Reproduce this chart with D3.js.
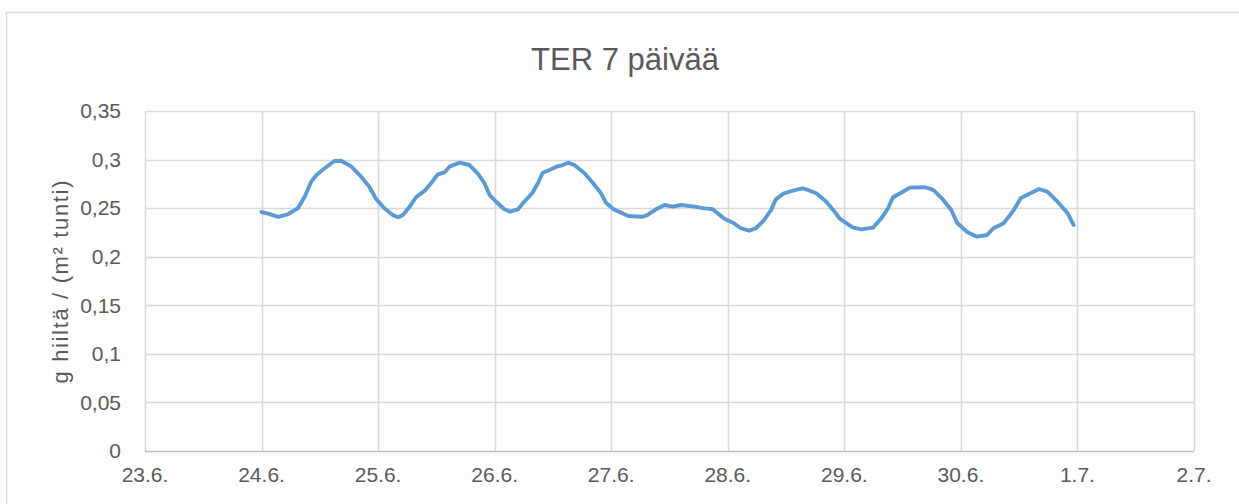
<!DOCTYPE html>
<html><head><meta charset="utf-8">
<script src="https://cdn.jsdelivr.net/npm/d3@7"></script>
<style>
html,body{margin:0;padding:0;background:#fff;}
svg{display:block;}
text{font-family:"Liberation Sans",Arial,sans-serif;fill:#595959;}
</style></head>
<body>
<script>
// Data: hours since 24.6. 00:00 and TER values
const hours = [0,1.5,3.4,5.4,7.5,8.9,10.2,11.3,13,15,16.4,18.5,20.5,22.2,23.5,25.3,27,28.1,29.1,30.5,31.8,33.6,34.9,36.3,37.7,38.7,40.8,42.8,44.5,45.9,46.9,48.3,50,51.2,52.8,54.1,55.8,56.9,57.9,59.3,60.7,61.7,63.1,64.4,66.5,68.2,69.9,70.9,72.5,75.5,78.5,79.5,81.2,83,84.7,86.4,89.1,91.2,92.9,93.9,95.3,97.2,98.7,100.4,101.8,103.5,104.9,105.9,107.6,109.4,111.4,112.5,114.2,116.3,118,119,121.7,123.5,125.9,127.6,129,130,131.7,133.5,136.6,138.3,140.4,142.1,143.2,145.2,147.3,149.4,150.7,152.8,154.9,156.3,158,160.1,161.8,163.9,166,167.2];
const values = [0.246,0.244,0.241,0.2437,0.250,0.262,0.277,0.2841,0.2911,0.2985,0.2988,0.2927,0.2824,0.272,0.260,0.2498,0.243,0.2406,0.243,0.2515,0.2612,0.268,0.2756,0.2848,0.2869,0.2927,0.2968,0.2944,0.2859,0.2756,0.2640,0.2566,0.2488,0.2464,0.2488,0.2566,0.2659,0.2756,0.2865,0.2893,0.2927,0.2937,0.2968,0.2944,0.2859,0.2762,0.2653,0.2556,0.2488,0.2419,0.2412,0.243,0.2488,0.2532,0.2515,0.2532,0.2515,0.2498,0.2488,0.2447,0.239,0.2347,0.2293,0.2268,0.2293,0.2378,0.248,0.2591,0.2653,0.268,0.2704,0.2687,0.2653,0.2566,0.2464,0.2395,0.2303,0.2282,0.2299,0.2395,0.2498,0.2612,0.2659,0.2711,0.2715,0.2687,0.2584,0.2474,0.235,0.2258,0.2206,0.2224,0.2293,0.2344,0.248,0.2601,0.2646,0.2697,0.2669,0.2566,0.2447,0.2327];
const xTickLabels = ["23.6.","24.6.","25.6.","26.6.","27.6.","28.6.","29.6.","30.6.","1.7.","2.7."];
const yTicks = [0,0.05,0.1,0.15,0.2,0.25,0.3,0.35];
const title = "TER 7 päivää";
const yTitle = "g hiiltä / (m² tunti)";

(function () {
const W = 1239, H = 504;
const svg = d3.select("body").append("svg").attr("width", W).attr("height", H);

// chart frame
svg.append("rect").attr("x", 6.5).attr("y", 12.5).attr("width", 1260).attr("height", 520)
  .attr("fill", "#fff").attr("stroke", "#d9d9d9").attr("stroke-width", 1.5);

const pl = 145, pr = 1194, pt = 111, pb = 451;
// x in days from 23.6. 00:00
const x = d3.scaleLinear().domain([0, xTickLabels.length - 1]).range([pl, pr]);
const y = d3.scaleLinear().domain([0, 0.35]).range([pb, pt]);

// horizontal gridlines
svg.append("g").selectAll("line").data(yTicks.filter(d => d > 0)).join("line")
  .attr("x1", pl).attr("x2", pr)
  .attr("y1", d => Math.round(y(d)) + 0.5).attr("y2", d => Math.round(y(d)) + 0.5)
  .attr("stroke", "#d9d9d9").attr("stroke-width", 1.6);
// vertical gridlines
svg.append("g").selectAll("line").data(xTickLabels).join("line")
  .attr("x1", (d, i) => Math.round(x(i)) + 0.5).attr("x2", (d, i) => Math.round(x(i)) + 0.5)
  .attr("y1", pt).attr("y2", pb)
  .attr("stroke", "#d9d9d9").attr("stroke-width", 1.6);
// bottom axis line
svg.append("line").attr("x1", pl).attr("x2", pr)
  .attr("y1", Math.round(y(0)) + 0.5).attr("y2", Math.round(y(0)) + 0.5)
  .attr("stroke", "#bfbfbf").attr("stroke-width", 1.6);

// y tick labels
const fmt = d => d === 0 ? "0" : String(d).replace(".", ",");
svg.append("g").selectAll("text").data(yTicks).join("text")
  .attr("x", 121).attr("y", d => y(d)).attr("dy", "0.35em")
  .attr("text-anchor", "end").attr("font-size", 21).text(fmt);

// x tick labels
svg.append("g").selectAll("text").data(xTickLabels).join("text")
  .attr("x", (d, i) => x(i)).attr("y", 482)
  .attr("text-anchor", "middle").attr("font-size", 21).text(d => d);

// title
svg.append("text").attr("x", 625).attr("y", 70).attr("text-anchor", "middle")
  .attr("font-size", 31).text(title);

// y axis title
svg.append("text").attr("transform", `translate(68,${(pt + pb) / 2 + 1}) rotate(-90)`)
  .attr("text-anchor", "middle").attr("font-size", 22)
  .attr("textLength", 203).attr("lengthAdjust", "spacing").text(yTitle);

// line
const pts = hours.map((h, i) => [1 + h / 24, values[i]]);
svg.append("path").datum(pts)
  .attr("fill", "none").attr("stroke", "#5b9bd5").attr("stroke-width", 3.9)
  .attr("stroke-linejoin", "round").attr("stroke-linecap", "round")
  .attr("d", d3.line().x(d => x(d[0])).y(d => y(d[1])));
})();
</script>
</body></html>
